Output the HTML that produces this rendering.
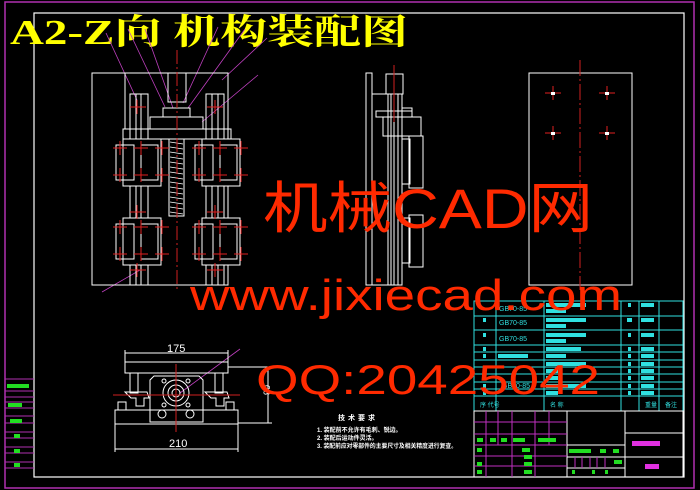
<!DOCTYPE html>
<html><head><meta charset="utf-8"><style>
html,body{margin:0;padding:0;background:#000;}
svg{display:block}
</style></head><body>
<svg width="700" height="490" viewBox="0 0 700 490" xmlns="http://www.w3.org/2000/svg" font-family="Liberation Sans, Noto Sans CJK SC, sans-serif">
<rect width="700" height="490" fill="#000"/>
<rect x="5" y="2" width="689" height="486" fill="none" stroke="#b030b0" stroke-width="1.5"/>
<rect x="34" y="13" width="650" height="464" fill="none" stroke="#fff" stroke-width="1.2"/>
<g stroke="#b030b0" stroke-width="1">
<line x1="5" y1="379" x2="34" y2="379"/><line x1="5" y1="391" x2="34" y2="391"/>
<line x1="5" y1="397" x2="34" y2="397"/><line x1="5" y1="402" x2="34" y2="402"/>
<line x1="5" y1="408" x2="34" y2="408"/><line x1="5" y1="416" x2="34" y2="416"/>
<line x1="5" y1="423" x2="34" y2="423"/><line x1="5" y1="432" x2="34" y2="432"/>
<line x1="5" y1="438" x2="34" y2="438"/><line x1="5" y1="447" x2="34" y2="447"/>
<line x1="5" y1="453" x2="34" y2="453"/><line x1="5" y1="462" x2="34" y2="462"/>
<line x1="5" y1="468" x2="34" y2="468"/>
</g>
<g fill="#22dd22">
<rect x="7" y="384" width="22" height="4"/><rect x="8" y="403" width="14" height="4"/>
<rect x="10" y="419" width="12" height="4"/><rect x="14" y="434" width="6" height="4"/>
<rect x="14" y="449" width="6" height="4"/><rect x="14" y="463" width="6" height="4"/>
</g>

<text x="10" y="44" font-family="Liberation Serif, Noto Serif CJK SC, serif" font-size="35" font-weight="bold" fill="#ffff00" textLength="398" lengthAdjust="spacingAndGlyphs">A2-Z向 机构装配图</text>

<g stroke="#c040c0" stroke-width="0.8" fill="none">
<line x1="106" y1="33" x2="137" y2="100"/><line x1="128" y1="29" x2="165" y2="107"/>
<line x1="145" y1="29" x2="173" y2="108"/><line x1="218" y1="27" x2="183" y2="103"/>
<line x1="245" y1="29" x2="188" y2="108"/><line x1="267" y1="38" x2="222" y2="80"/>
<line x1="258" y1="75" x2="202" y2="122"/><line x1="102" y1="292" x2="140" y2="270"/>
<line x1="240" y1="349" x2="180" y2="393"/>
</g>

<g stroke="#fff" stroke-width="1" fill="none">
<rect x="92" y="73" width="136" height="212"/>
<line x1="125" y1="73" x2="125" y2="129"/>
<rect x="168" y="73" width="18" height="29"/>
<rect x="163" y="108" width="27" height="9"/>
<rect x="150" y="117" width="53" height="12"/>
<rect x="123" y="129" width="108" height="10"/>
<rect x="169" y="139" width="15" height="77"/>
<rect x="130" y="94" width="18" height="191"/><line x1="136" y1="94" x2="136" y2="285"/><line x1="141" y1="94" x2="141" y2="285"/>
<rect x="206" y="94" width="18" height="191"/><line x1="212" y1="94" x2="212" y2="285"/><line x1="218" y1="94" x2="218" y2="285"/>
<rect x="123" y="139" width="38" height="47" fill="#000"/>
<rect x="116" y="145" width="18" height="35"/><rect x="141" y="145" width="17" height="35"/>
<rect x="202" y="139" width="38" height="47" fill="#000"/>
<rect x="195" y="145" width="18" height="35"/><rect x="220" y="145" width="17" height="35"/>
<rect x="123" y="218" width="38" height="47" fill="#000"/>
<rect x="116" y="224" width="18" height="35"/><rect x="141" y="224" width="17" height="35"/>
<rect x="202" y="218" width="38" height="47" fill="#000"/>
<rect x="195" y="224" width="18" height="35"/><rect x="220" y="224" width="17" height="35"/>
</g>
<g stroke="#fff" stroke-width="0.8">
<line x1="170" y1="142" x2="183" y2="144"/><line x1="170" y1="147" x2="183" y2="149"/><line x1="170" y1="152" x2="183" y2="154"/>
<line x1="170" y1="157" x2="183" y2="159"/><line x1="170" y1="162" x2="183" y2="164"/><line x1="170" y1="167" x2="183" y2="169"/>
<line x1="170" y1="172" x2="183" y2="174"/><line x1="170" y1="177" x2="183" y2="179"/><line x1="170" y1="182" x2="183" y2="184"/>
<line x1="170" y1="187" x2="183" y2="189"/><line x1="170" y1="192" x2="183" y2="194"/><line x1="170" y1="197" x2="183" y2="199"/>
<line x1="170" y1="202" x2="183" y2="204"/><line x1="170" y1="207" x2="183" y2="209"/><line x1="170" y1="212" x2="183" y2="214"/>
</g>
<line x1="177" y1="50" x2="177" y2="292" stroke="#d02020" stroke-width="1" stroke-dasharray="14 3 2 3"/>
<g stroke="#e02020" stroke-width="1">
<path d="M113 148h14M120 141v14M134 148h14M141 141v14M155 148h14M162 141v14"/>
<path d="M113 175h14M120 168v14M134 175h14M141 168v14M155 175h14M162 168v14"/>
<path d="M192 148h14M199 141v14M213 148h14M220 141v14M234 148h14M241 141v14"/>
<path d="M192 175h14M199 168v14M213 175h14M220 168v14M234 175h14M241 168v14"/>
<path d="M113 227h14M120 220v14M134 227h14M141 220v14M155 227h14M162 220v14"/>
<path d="M113 254h14M120 247v14M134 254h14M141 247v14M155 254h14M162 247v14"/>
<path d="M192 227h14M199 220v14M213 227h14M220 220v14M234 227h14M241 220v14"/>
<path d="M192 254h14M199 247v14M213 254h14M220 247v14M234 254h14M241 247v14"/>
<path d="M130 107h16M137 100v14M207 107h16M215 100v14M130 212h16M137 205v14M207 212h16M215 205v14M130 270h16M137 263v14M207 270h16M215 263v14"/>
</g>

<g stroke="#fff" stroke-width="1" fill="none">
<rect x="366" y="73" width="6" height="212"/>
<rect x="386" y="74" width="17" height="20"/>
<rect x="372" y="94" width="30" height="191"/>
<line x1="388" y1="94" x2="388" y2="285"/><line x1="391" y1="94" x2="391" y2="285"/><line x1="394" y1="94" x2="394" y2="285"/><line x1="398" y1="94" x2="398" y2="285"/>
<rect x="376" y="111" width="36" height="6"/><rect x="402" y="108" width="10" height="9"/>
<rect x="383" y="117" width="38" height="19"/>
<rect x="409" y="136" width="14" height="52"/><rect x="402" y="139" width="8" height="45"/>
<rect x="409" y="215" width="14" height="52"/><rect x="402" y="218" width="8" height="45"/>
</g>
<line x1="394" y1="65" x2="394" y2="122" stroke="#d02020" stroke-width="1"/>

<rect x="529" y="73" width="103" height="212" fill="none" stroke="#fff" stroke-width="1"/>
<line x1="580" y1="60" x2="580" y2="290" stroke="#d02020" stroke-width="1" stroke-dasharray="16 3 2 3"/>
<g stroke="#e02020" stroke-width="1">
<path d="M545 93h16M553 86v14M599 93h16M607 86v14M545 133h16M553 126v14M599 133h16M607 126v14"/>
</g>
<g fill="#fff"><rect x="551" y="92" width="4" height="3"/><rect x="605" y="92" width="4" height="3"/><rect x="551" y="132" width="4" height="3"/><rect x="605" y="132" width="4" height="3"/></g>

<g stroke="#fff" stroke-width="1" fill="none">
<rect x="125" y="362" width="103" height="11"/>
<line x1="125" y1="353" x2="228" y2="353"/><line x1="125" y1="350" x2="125" y2="362"/><line x1="228" y1="350" x2="228" y2="362"/>
<rect x="130" y="373" width="8" height="20"/><rect x="215" y="373" width="8" height="20"/>
<path d="M125 392h22l2 6h-5v8h-8v-8h-5z"/><path d="M205 392h22l2 6h-5v8h-8v-8h-5z"/>
<rect x="115" y="410" width="123" height="14"/>
<rect x="118" y="402" width="8" height="8"/><rect x="226" y="402" width="8" height="8"/>
<path d="M150 380l4 -4h45l4 4v42h-53z"/>
<circle cx="176" cy="393" r="13"/><circle cx="176" cy="393" r="8"/><circle cx="176" cy="393" r="4"/>
<circle cx="162" cy="414" r="4"/><circle cx="190" cy="414" r="4"/>
<circle cx="164" cy="381" r="2"/><circle cx="188" cy="381" r="2"/><circle cx="164" cy="405" r="2"/><circle cx="188" cy="405" r="2"/>
<line x1="115" y1="449" x2="238" y2="449"/><line x1="115" y1="424" x2="115" y2="452"/><line x1="238" y1="424" x2="238" y2="452"/>
<line x1="228" y1="367" x2="272" y2="367"/><line x1="238" y1="423" x2="272" y2="423"/><line x1="268" y1="367" x2="268" y2="423"/>
</g>
<line x1="176" y1="364" x2="176" y2="432" stroke="#d02020" stroke-width="1"/>
<line x1="113" y1="395" x2="240" y2="395" stroke="#d02020" stroke-width="1"/>
<g fill="#fff" font-size="11">
<text x="167" y="352">175</text><text x="169" y="447">210</text>
<text x="266" y="399" font-size="9" transform="rotate(-90 266 395)">90</text>
</g>
<g fill="#fff" font-weight="bold">
<text x="338" y="420" font-size="7" letter-spacing="3">技术要求</text>
<text x="317" y="432" font-size="6">1. 装配前不允许有毛刺、锐边。</text>
<text x="317" y="440" font-size="6">2. 装配后运动件灵活。</text>
<text x="317" y="448" font-size="6" textLength="140" lengthAdjust="spacingAndGlyphs">3. 装配前应对零部件的主要尺寸及相关精度进行复查。</text>
</g>

<g stroke="#30e0e0" stroke-width="1" fill="none">
<rect x="474" y="301" width="209" height="110"/>
<line x1="474" y1="316" x2="683" y2="316"/><line x1="474" y1="330" x2="683" y2="330"/>
<line x1="474" y1="345" x2="683" y2="345"/><line x1="474" y1="352" x2="683" y2="352"/>
<line x1="474" y1="360" x2="683" y2="360"/><line x1="474" y1="367" x2="683" y2="367"/>
<line x1="474" y1="374" x2="683" y2="374"/><line x1="474" y1="382" x2="683" y2="382"/>
<line x1="474" y1="389" x2="683" y2="389"/><line x1="474" y1="396" x2="683" y2="396"/>
<line x1="496" y1="301" x2="496" y2="411"/><line x1="544" y1="301" x2="544" y2="411"/>
<line x1="621" y1="301" x2="621" y2="411"/><line x1="639" y1="301" x2="639" y2="411"/>
<line x1="659" y1="301" x2="659" y2="411"/>
</g>
<g fill="#30e0e0" font-size="7">
<text x="499" y="311">GB70-85</text><text x="499" y="325">GB70-85</text><text x="499" y="341">GB70-85</text><text x="502" y="388">GB70-85</text>
<rect x="546" y="303" width="40" height="4"/><rect x="546" y="309" width="20" height="4"/>
<rect x="546" y="318" width="40" height="4"/><rect x="546" y="324" width="20" height="4"/>
<rect x="546" y="333" width="40" height="4"/><rect x="546" y="339" width="20" height="4"/>
<rect x="546" y="347" width="35" height="4"/><rect x="546" y="354" width="20" height="4"/>
<rect x="546" y="362" width="40" height="4"/><rect x="546" y="369" width="12" height="4"/>
<rect x="546" y="376" width="12" height="4"/><rect x="546" y="384" width="40" height="4"/><rect x="546" y="391" width="12" height="4"/>
<rect x="498" y="354" width="30" height="4"/>
<rect x="641" y="303" width="13" height="4"/><rect x="641" y="318" width="13" height="4"/><rect x="641" y="333" width="13" height="4"/>
<rect x="641" y="347" width="13" height="4"/><rect x="641" y="354" width="13" height="4"/><rect x="641" y="362" width="13" height="4"/>
<rect x="641" y="369" width="13" height="4"/><rect x="641" y="376" width="13" height="4"/><rect x="641" y="384" width="13" height="4"/><rect x="641" y="391" width="13" height="4"/>
<rect x="628" y="303" width="3" height="4"/><rect x="627" y="318" width="5" height="4"/><rect x="628" y="333" width="3" height="4"/>
<rect x="628" y="347" width="3" height="4"/><rect x="628" y="354" width="3" height="4"/><rect x="628" y="362" width="3" height="4"/>
<rect x="628" y="369" width="3" height="4"/><rect x="628" y="376" width="3" height="4"/><rect x="628" y="384" width="3" height="4"/><rect x="628" y="391" width="3" height="4"/>
<rect x="483" y="318" width="3" height="4"/><rect x="483" y="333" width="3" height="4"/><rect x="483" y="347" width="3" height="4"/>
<rect x="483" y="354" width="3" height="4"/><rect x="483" y="384" width="3" height="4"/><rect x="483" y="391" width="3" height="4"/>
<text x="480" y="407" font-size="6">序  代号</text><text x="550" y="407" font-size="6">名  称</text><text x="645" y="407" font-size="6">重量</text><text x="665" y="407" font-size="6">备注</text>
</g>
<g stroke="#fff" stroke-width="1" fill="none">
<rect x="474" y="411" width="209" height="66"/>
<line x1="567" y1="411" x2="567" y2="477"/><line x1="625" y1="411" x2="625" y2="477"/>
<line x1="625" y1="433" x2="683" y2="433"/><line x1="625" y1="457" x2="683" y2="457"/>
<line x1="567" y1="445" x2="625" y2="445"/><line x1="567" y1="457" x2="625" y2="457"/><line x1="567" y1="468" x2="625" y2="468"/>
</g>
<g stroke="#c030c0" stroke-width="1">
<line x1="474" y1="422" x2="567" y2="422"/><line x1="474" y1="434" x2="567" y2="434"/><line x1="474" y1="445" x2="567" y2="445"/>
<line x1="474" y1="456" x2="567" y2="456"/><line x1="474" y1="466" x2="567" y2="466"/>
<line x1="486" y1="411" x2="486" y2="477"/><line x1="498" y1="411" x2="498" y2="445"/><line x1="512" y1="411" x2="512" y2="477"/>
<line x1="535" y1="411" x2="535" y2="477"/><line x1="549" y1="411" x2="549" y2="445"/>
<line x1="575" y1="457" x2="575" y2="468"/><line x1="582" y1="457" x2="582" y2="468"/><line x1="590" y1="457" x2="590" y2="468"/><line x1="597" y1="457" x2="597" y2="468"/><line x1="605" y1="457" x2="605" y2="468"/>
</g>
<g fill="#22dd22">
<rect x="477" y="438" width="6" height="4"/><rect x="490" y="438" width="6" height="4"/><rect x="501" y="438" width="6" height="4"/><rect x="513" y="438" width="12" height="4"/><rect x="538" y="438" width="18" height="4"/>
<rect x="477" y="448" width="5" height="4"/><rect x="522" y="448" width="8" height="4"/><rect x="477" y="462" width="5" height="4"/><rect x="524" y="462" width="8" height="4"/>
<rect x="477" y="470" width="5" height="4"/><rect x="524" y="470" width="8" height="4"/><rect x="524" y="455" width="8" height="4"/>
<rect x="569" y="449" width="22" height="4"/><rect x="600" y="449" width="6" height="4"/><rect x="613" y="449" width="6" height="4"/>
<rect x="614" y="460" width="8" height="4"/><rect x="572" y="470" width="3" height="4"/><rect x="592" y="470" width="3" height="4"/><rect x="605" y="470" width="3" height="4"/>
</g>
<g fill="#e030e0"><rect x="632" y="441" width="28" height="5"/><rect x="645" y="464" width="14" height="5"/></g>

<g fill="#ff2a00">
<text x="263" y="228" font-size="56" textLength="330" lengthAdjust="spacingAndGlyphs">机械CAD网</text>
<text x="190" y="310" font-size="44" textLength="432" lengthAdjust="spacingAndGlyphs">www.jixiecad.com</text>
<text x="256" y="394" font-size="42" textLength="344" lengthAdjust="spacingAndGlyphs">QQ:20425042</text>
</g>
</svg>
</body></html>
